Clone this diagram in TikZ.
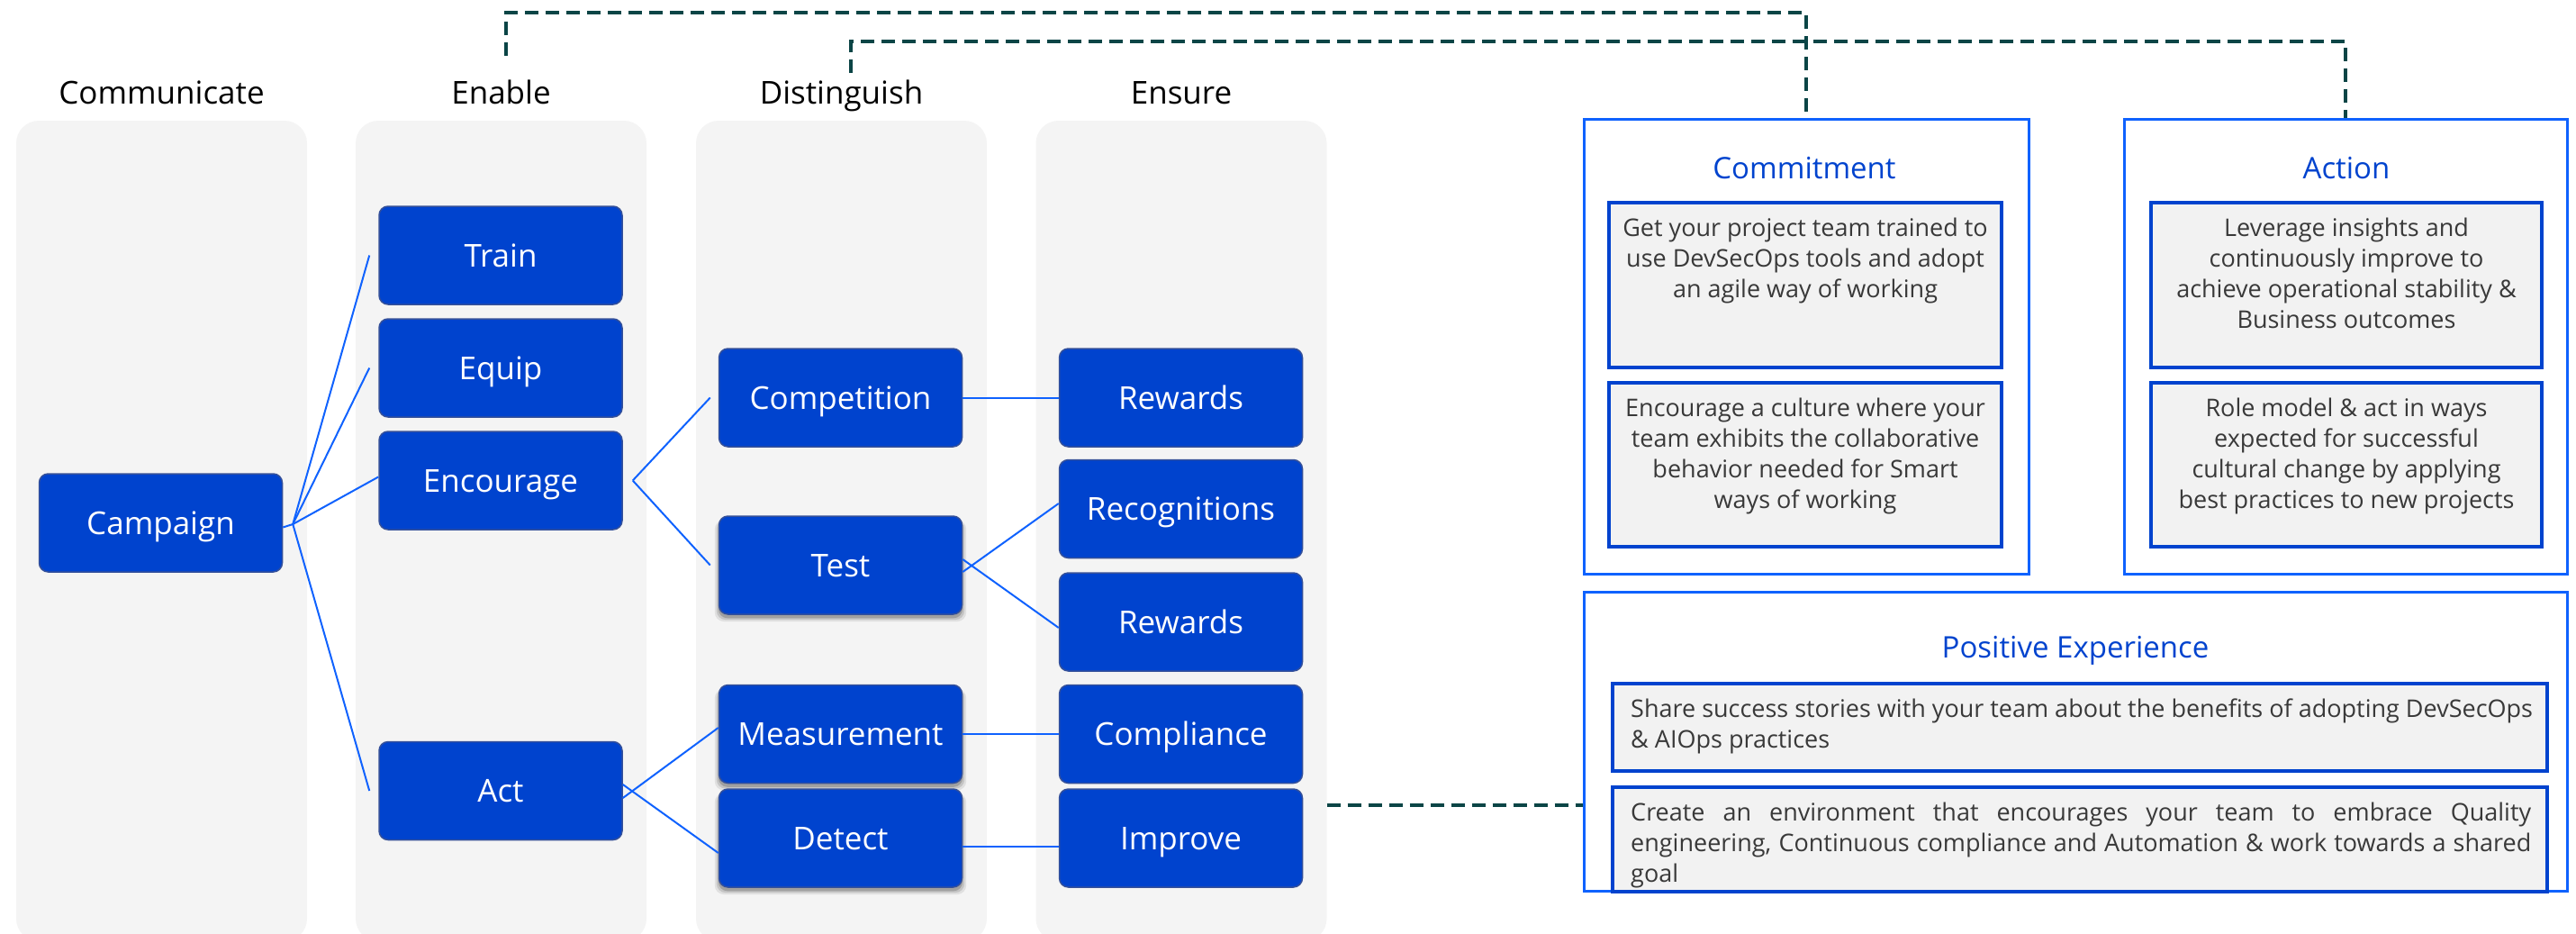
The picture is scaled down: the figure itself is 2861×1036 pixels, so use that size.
\documentclass[tikz,border=0pt]{standalone}
\usepackage{fontspec}
\setmainfont{Open Sans}
\usetikzlibrary{shadows}
\definecolor{ibmblue}{HTML}{0043CE}
\definecolor{bborder}{HTML}{34509A}
\definecolor{colbg}{HTML}{F4F4F4}
\definecolor{connblue}{HTML}{0F62FE}
\definecolor{dteal}{HTML}{0B4546}
\definecolor{obrd}{HTML}{0F62FE}
\definecolor{innerbg}{HTML}{F2F2F2}
\definecolor{bodygray}{HTML}{393939}
\begin{document}
\begin{tikzpicture}[x=1pt,y=-1pt,
  colbox/.style={fill=colbg, draw=none, rounded corners=25pt, minimum width=323pt, minimum height=911pt, inner sep=0pt},
  hdr/.style={font=\fontsize{35}{42}\selectfont, text=black, inner sep=0pt, anchor=base},
  bbox/.style={fill=ibmblue, draw=bborder, line width=1.5pt, rounded corners=10pt, minimum width=270pt, minimum height=109pt, text=white, font=\fontsize{35}{42}\selectfont, inner sep=0pt, text height=25pt, text depth=0pt},
  shad/.style={
    drop shadow={shadow xshift=0pt, shadow yshift=-6pt, shadow scale=1.035, opacity=0.08, fill=black},
    drop shadow={shadow xshift=0pt, shadow yshift=-5pt, shadow scale=1.02, opacity=0.12, fill=black},
    drop shadow={shadow xshift=0pt, shadow yshift=-4pt, shadow scale=1.005, opacity=0.18, fill=black}},
  conn/.style={draw=connblue, line width=2pt},
  dashconn/.style={draw=dteal, line width=3.5pt, dash pattern=on 15pt off 8pt},
  outerbox/.style={draw=obrd, line width=3pt, fill=none, inner sep=0pt},
  innerbox/.style={draw=ibmblue, line width=3.5pt, fill=innerbg, inner sep=0pt},
  ttl/.style={text=ibmblue, font=\fontsize{33}{40}\selectfont, inner sep=0pt, anchor=base},
  body/.style={text=bodygray, font=\fontsize{27}{34}\selectfont, inner sep=0pt, anchor=north}
]
\useasboundingbox (0,0) rectangle (2861,1036);

% columns
\node[colbox] (col1) at (179.5,589.5) {};
\node[colbox] (col2) at (556.5,589.5) {};
\node[colbox] (col3) at (934.5,589.5) {};
\node[colbox] (col4) at (1312,589.5) {};

% headers
\node[hdr] (hComm) at (179.5,115) {Communicate};
\node[hdr] (hEnab) at (556.5,115) {Enable};
\node[hdr] (hDist) at (934.5,115) {Distinguish};
\node[hdr] (hEns) at (1312,115) {Ensure};

% blue boxes
\node[bbox] (Campaign) at (178.5,580.5) {Campaign};
\node[bbox] (Train) at (556,283.5) {Train};
\node[bbox] (Equip) at (556,408.5) {Equip};
\node[bbox] (Encourage) at (556,533.5) {Encourage};
\node[bbox] (Act) at (556,878) {Act};
\node[bbox] (Competition) at (933.5,441.5) {Competition};
\node[bbox,shad] (Test) at (933.5,627.5) {Test};
\node[bbox,shad] (Measurement) at (933.5,815) {Measurement};
\node[bbox,shad] (Detect) at (933.5,930.5) {Detect};
\node[bbox] (Rewards1) at (1311.5,441.5) {Rewards};
\node[bbox] (Recognitions) at (1311.5,565) {Recognitions};
\node[bbox] (Rewards2) at (1311.5,690.5) {Rewards};
\node[bbox] (Compliance) at (1311.5,815) {Compliance};
\node[bbox] (Improve) at (1311.5,930.5) {Improve};

% connectors
\coordinate (cf) at ([xshift=11pt,yshift=-1.5pt]Campaign.east);
\draw[conn] ([yshift=-5pt]Campaign.east) -- (cf);
\draw[conn] (cf) -- ([xshift=-10pt]Train.west);
\draw[conn] (cf) -- ([xshift=-10pt]Equip.west);
\draw[conn] (cf) -- ([yshift=4pt]Encourage.west);
\draw[conn] (cf) -- ([xshift=-10pt]Act.west);
\coordinate (ef) at ([xshift=11pt]Encourage.east);
\draw[conn] (ef) -- ([xshift=-9pt]Competition.west);
\draw[conn] (ef) -- ([xshift=-9pt]Test.west);
\draw[conn] ([yshift=-8pt]Act.east) -- ([yshift=7pt]Measurement.west);
\draw[conn] ([yshift=7pt]Act.east) -- ([yshift=-16.5pt]Detect.west);
\draw[conn] (Competition.east) -- (Rewards1.west);
\draw[conn] ([yshift=-7.5pt]Test.east) -- ([yshift=6pt]Recognitions.west);
\draw[conn] ([yshift=6.5pt]Test.east) -- ([yshift=-6.5pt]Rewards2.west);
\draw[conn] (Measurement.east) -- (Compliance.west);
\draw[conn] ([yshift=-9.5pt]Detect.east) -- ([yshift=-9.5pt]Improve.west);

% right panels
\node[outerbox, minimum width=494pt, minimum height=505pt] (Commitment) at (2006,384.5) {};
\node[outerbox, minimum width=492pt, minimum height=505pt] (Action) at (2605,384.5) {};
\node[outerbox, minimum width=1092pt, minimum height=332pt] (PE) at (2305,823) {};

\node[ttl] (tComm) at (2004,198) {Commitment};
\node[ttl] (tAct) at (2606,198) {Action};
\node[ttl] (tPE) at (2305,730) {Positive Experience};

\node[innerbox, minimum width=436pt, minimum height=183pt] (cb1) at (2005,316.5) {};
\node[innerbox, minimum width=436pt, minimum height=182pt] (cb2) at (2005,516) {};
\node[innerbox, minimum width=434pt, minimum height=183pt] (ab1) at (2606,316.5) {};
\node[innerbox, minimum width=434pt, minimum height=182pt] (ab2) at (2606,516) {};
\node[innerbox, minimum width=1038pt, minimum height=97pt] (pb1) at (2310,807.5) {};
\node[innerbox, minimum width=1038pt, minimum height=116pt] (pb2) at (2310,932) {};

\node[body, align=center] (cb1t) at (2005,242) {Get your project team trained to\\use DevSecOps tools and adopt\\an agile way of working};
\node[body, align=center] (cb2t) at (2005,441.5) {Encourage a culture where your\\team exhibits the collaborative\\behavior needed for Smart\\ways of working};
\node[body, align=center] (ab1t) at (2606,242) {Leverage insights and\\continuously improve to\\achieve operational stability \&\\Business outcomes};
\node[body, align=center] (ab2t) at (2606,441.5) {Role model \& act in ways\\expected for successful\\cultural change by applying\\best practices to new projects};
\node[body, align=left, anchor=north west] (pb1t) at (1811,776) {Share success stories with your team about the benefits of adopting DevSecOps\\\& AIOps practices};
\node[body, align=justify, text width=1000pt, anchor=north west] (pb2t) at (1811,891) {Create an environment that encourages your team to embrace Quality\linebreak engineering, Continuous compliance and Automation \& work towards a shared\linebreak goal};

% dashed connectors
\coordinate (d1s) at (562,62);
\coordinate (d2s) at (945,81);
\coordinate (t1) at (0,14);
\coordinate (t2) at (0,46);
\coordinate (y3) at (0,894);
\draw[dashconn] (d1s) |- (t1 -| Commitment.north) -- (Commitment.north);
\draw[dashconn] (d2s) |- (t2 -| Action.north) -- (Action.north);
\draw[dashconn] (col4.east |- y3) -- (PE.west |- y3);
\end{tikzpicture}
\end{document}
